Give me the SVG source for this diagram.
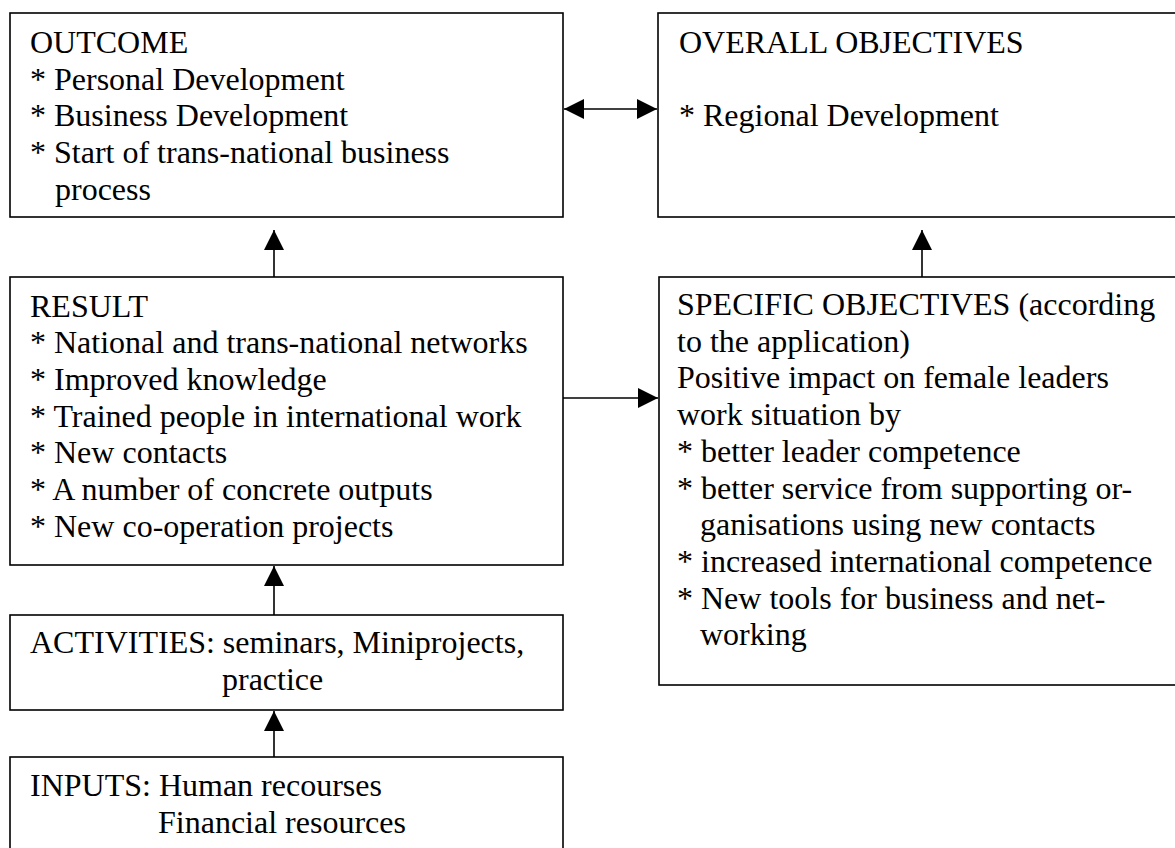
<svg xmlns="http://www.w3.org/2000/svg" width="1175" height="848" viewBox="0 0 1175 848">
  <style>
    .box { fill: #ffffff; stroke: #000000; stroke-width: 1.6; }
    .txt { font-family: "Liberation Serif", "Times New Roman", serif; font-size: 32px; fill: #000000; }
    .link { stroke: #000000; stroke-width: 1.6; fill: none; }
  </style>
  <defs>
    <marker id="head" markerUnits="userSpaceOnUse" markerWidth="21" markerHeight="21" refX="20" refY="10" orient="auto-start-reverse" viewBox="0 0 21 21">
      <path d="M0,0 L20,10 L0,20 Z" fill="#000000"/>
    </marker>
  </defs>
  <rect width="1175" height="848" fill="#ffffff"/>

  <g id="outcome">
    <rect class="box" x="10" y="13" width="553" height="204"/>
    <text class="txt" x="30" y="53">OUTCOME</text>
    <text class="txt" x="30" y="89.7">* Personal Development</text>
    <text class="txt" x="30" y="126.4">* Business Development</text>
    <text class="txt" x="30" y="163.1">* Start of trans-national business</text>
    <text class="txt" x="55" y="199.8">process</text>
  </g>

  <g id="overall-objectives">
    <rect class="box" x="658" y="13" width="540" height="204"/>
    <text class="txt" x="679" y="53">OVERALL OBJECTIVES</text>
    <text class="txt" x="679" y="126.4">* Regional Development</text>
  </g>

  <g id="result">
    <rect class="box" x="10" y="277" width="553" height="288"/>
    <text class="txt" x="30" y="316.5">RESULT</text>
    <text class="txt" x="30" y="353.2">* National and trans-national networks</text>
    <text class="txt" x="30" y="389.9">* Improved knowledge</text>
    <text class="txt" x="30" y="426.6">* Trained people in international work</text>
    <text class="txt" x="30" y="463.3">* New contacts</text>
    <text class="txt" x="30" y="500">* A number of concrete outputs</text>
    <text class="txt" x="30" y="536.7">* New co-operation projects</text>
  </g>

  <g id="specific-objectives">
    <rect class="box" x="659" y="277" width="540" height="408"/>
    <text class="txt" x="677" y="315">SPECIFIC OBJECTIVES (according</text>
    <text class="txt" x="677" y="351.7">to the application)</text>
    <text class="txt" x="677" y="388.4">Positive impact on female leaders</text>
    <text class="txt" x="677" y="425.1">work situation by</text>
    <text class="txt" x="677" y="461.8">* better leader competence</text>
    <text class="txt" x="677" y="498.5">* better service from supporting  or-</text>
    <text class="txt" x="700" y="535.2">ganisations using new contacts</text>
    <text class="txt" x="677" y="571.9">* increased international competence</text>
    <text class="txt" x="677" y="608.6">* New tools for business and net-</text>
    <text class="txt" x="700" y="645.3">working</text>
  </g>

  <g id="activities">
    <rect class="box" x="10" y="615" width="553" height="95"/>
    <text class="txt" x="30" y="653">ACTIVITIES: seminars, Miniprojects,</text>
    <text class="txt" x="222" y="689.7">practice</text>
  </g>

  <g id="inputs">
    <rect class="box" x="10" y="757" width="553" height="110"/>
    <text class="txt" x="30" y="796">INPUTS: Human recourses</text>
    <text class="txt" x="158" y="833">Financial resources</text>
  </g>

  <g id="connectors">
    <line class="link" x1="564" y1="109" x2="657" y2="109" marker-start="url(#head)" marker-end="url(#head)"/>
    <line class="link" x1="274" y1="277" x2="274" y2="230" marker-end="url(#head)"/>
    <line class="link" x1="922" y1="277" x2="922" y2="230" marker-end="url(#head)"/>
    <line class="link" x1="563" y1="398" x2="658" y2="398" marker-end="url(#head)"/>
    <line class="link" x1="274" y1="615" x2="274" y2="566" marker-end="url(#head)"/>
    <line class="link" x1="274" y1="757" x2="274" y2="711" marker-end="url(#head)"/>
  </g>
</svg>
